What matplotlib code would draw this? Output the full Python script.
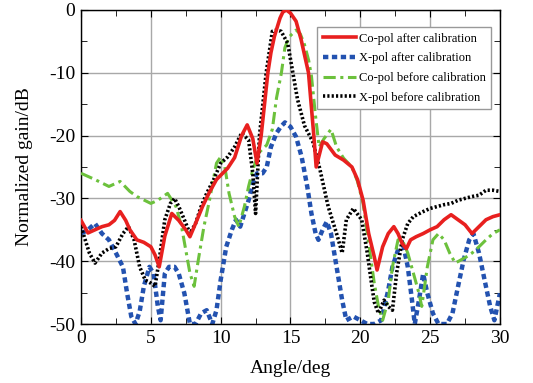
import matplotlib
matplotlib.use("Agg")
import matplotlib.pyplot as plt
from matplotlib.ticker import MultipleLocator

plt.rcParams['font.family'] = ['Liberation Serif', 'DejaVu Serif']
plt.rcParams['axes.unicode_minus'] = False

# Co-pol after calibration (red)
red_x = [0, 0.5, 1.0, 1.5, 2.0, 2.4, 2.8, 3.2, 3.5, 4.0, 4.5, 5.0, 5.3, 5.6, 6.0, 6.5, 7.0, 7.5, 7.8,
         8.2, 8.7, 9.2, 9.7, 10.5, 11.0, 11.5, 11.9, 12.3, 12.6, 12.9, 13.38, 13.6, 13.85, 14.25,
         14.45, 14.7, 15.0, 15.4, 15.76, 16.29, 16.67, 16.84, 17.3, 17.6, 18.2, 18.8, 19.4, 19.8,
         20.2, 20.6, 21.0, 21.2, 21.6, 22.0, 22.4, 22.7, 23.0, 23.3, 23.6, 24.0, 24.5, 25.0,
         25.5, 26.0, 26.5, 27.0, 27.5, 28.0, 28.5, 29.0, 29.5, 30.0]
red_y = [-33.5, -35.5, -35, -34.5, -34.2, -33.5, -32.1, -33.5, -35, -36.6, -37, -37.7, -39, -40.9,
         -36, -32.4, -33.5, -35, -36.1, -34, -31.3, -29, -27, -25.2, -23.5, -20, -18.3, -20.5,
         -24.4, -20, -10, -6.8, -4.2, -1.3, -0.35, 0, -0.5, -1.8, -4.7, -10, -20, -25, -21, -21.3,
         -23.1, -23.9, -25, -27, -30.3, -35.6, -39.3, -41.4, -37.7, -35.6, -34.5, -35.6, -37.2,
         -38, -36.6, -36.1, -35.6, -35, -34.5, -33.4, -32.6, -33.4, -34.2, -35.6, -34.5, -33.4,
         -32.9, -32.6]

# X-pol after calibration (blue)
blue_x = [0, 0.5, 1.0, 1.5, 2.0, 2.5, 3.0, 3.3, 3.6, 3.9, 4.2, 4.5, 4.9, 5.2, 5.5, 5.7, 6.0, 6.3,
          6.7, 7.0, 7.4, 7.8, 8.2, 8.6, 9.0, 9.4, 9.7, 10.0, 10.4, 10.8, 11.1, 11.4, 11.7, 12.0,
          12.3, 12.6, 13.0, 13.3, 13.6, 14.0, 14.3, 14.6, 15.0, 15.4, 15.8, 16.2, 16.5, 16.8,
          17.0, 17.3, 17.6, 17.9, 18.3, 18.7, 19.0, 19.5, 20.0, 20.5, 21.0, 21.5, 22.0, 22.3,
          22.7, 23.1, 23.4, 23.7, 23.9, 24.2, 24.5, 24.8, 25.2, 25.6, 26.2, 26.6, 27.0, 27.4,
          27.8, 28.1, 28.5, 28.9, 29.3, 29.6, 30.0]
blue_y = [-35.6, -35, -34, -35.6, -36.6, -38.7, -40.9, -45.1, -48.8, -50, -48, -44, -40.9, -42,
          -47.2, -49.4, -42, -40.9, -40.9, -42, -45.1, -50, -50, -48.3, -47.8, -50, -47.8, -43,
          -37.7, -35, -33.4, -34.5, -32.4, -30.3, -27.6, -26, -26, -25, -21.8, -19.6, -18.6, -17.9,
          -18.6, -20.2, -23.4, -28.1, -32.4, -35.6, -36.6, -35, -33.7, -35.6, -40.9, -46.2,
          -49.4, -48.8, -49.4, -50, -50, -49.4, -44.6, -40.9, -38.2, -37.7, -40.9, -46.2, -50,
          -46.2, -42, -45.1, -48.3, -50, -50, -48.3, -44, -39.8, -36.6, -35.6, -38.7, -43,
          -47.2, -49.4, -45.1]

# Co-pol before calibration (green)
green_x = [0, 1.0, 2.0, 2.8, 3.5, 4.0, 5.0, 5.5, 6.2, 6.8, 7.2, 7.8, 8.1, 8.4, 8.8, 9.2, 9.7,
           10.0, 10.3, 10.6, 11.0, 11.3, 11.7, 12.0, 12.3, 12.7, 13.3, 13.7, 14.0, 14.35, 14.6,
           14.9, 15.4, 15.7, 16.0, 16.3, 16.5, 16.8, 17.05, 17.4, 17.9, 18.3, 18.8, 19.4, 19.8,
           20.2, 20.6, 21.0, 21.3, 21.6, 22.0, 22.3, 22.7, 23.0, 23.4, 23.8, 24.2, 24.4, 24.8,
           25.2, 25.6, 26.0, 26.4, 26.8, 27.2, 27.6, 28.0, 28.5, 29.0, 29.5, 30.0]
green_y = [-26, -27, -28.1, -27.3, -28.9, -29.7, -30.8, -30.3, -29.2, -31.3, -34.5, -41.9, -44,
           -39.8, -34.5, -30.3, -24.4, -23.4, -25, -29.2, -32.9, -34.5, -31.3, -28.1, -25.5,
           -22.8, -21.5, -19, -14, -10, -6, -4.3, -3.2, -3.8, -5.5, -8, -10.5, -17, -21.8,
           -20.5, -19, -21.8, -23.6, -25, -27.3, -30.8, -37.2, -43.5, -47.2, -49.4, -46.2, -40.9,
           -36.6, -36.6, -38.7, -41.9, -45.1, -47.2, -40.9, -36.6, -35.6, -36.6, -38.7, -40.3,
           -39.8, -39.3, -38.7, -37.7, -36.6, -35.6, -35]

# X-pol before calibration (black)
black_x = [0, 0.3, 0.6, 1.0, 1.5, 2.0, 2.5, 3.0, 3.4, 3.8, 4.2, 4.6, 5.0, 5.3, 5.6, 6.0, 6.4,
           6.7, 7.0, 7.4, 7.8, 8.2, 8.6, 9.0, 9.5, 10.0, 10.5, 11.0, 11.5, 12.0, 12.3, 12.5,
           12.78, 13.26, 13.7, 14.0, 14.33, 14.8, 15.17, 15.5, 16.0, 16.6, 17.1, 17.7, 18.3, 18.7,
           19.0, 19.5, 20.1, 20.5, 20.8, 21.0, 21.3, 21.7, 22.0, 22.3, 22.6, 23.0, 23.4, 23.8,
           24.5, 25.0, 25.5, 26.0, 26.5, 27.0, 27.5, 28.0, 28.5, 29.0, 29.5, 30.0]
black_y = [-34.5, -36.6, -38.7, -40.3, -38.7, -38, -37.7, -35.6, -34.5, -36.6, -40.9, -43,
           -43.5, -44, -39.8, -33.4, -30.8, -30, -31.3, -33.4, -35.6, -34, -31.3, -29.2, -27,
           -24.4, -23.4, -21.8, -19.6, -20.7, -26, -32.4, -20, -10, -3.4, -3.2, -3.4, -5.3,
           -10, -14.2, -18.4, -21, -25.3, -31.3, -35.6, -38.7, -33.4, -31.6, -33.4, -38.7, -43.5,
           -46.5, -48.3, -46.2, -47.2, -47.8, -41.9, -36.6, -34, -32.9, -32.1, -31.6, -31.3,
           -31, -30.8, -30.3, -30, -29.7, -29.5, -28.7, -28.7, -28.9]

labels = ["Co-pol after calibration", "X-pol after calibration",
          "Co-pol before calibration", "X-pol before calibration"]

fig = plt.figure(figsize=(5.33, 3.83), dpi=100)
ax = fig.add_axes([0.152, 0.154, 0.786, 0.820])

ax.plot(red_x, red_y, color='#e8201f', lw=2.6, ls='-', label=labels[0], zorder=4)
ax.plot(blue_x, blue_y, color='#2352b0', lw=3.2, ls=(0, (1.2, 0.8)), label=labels[1], zorder=2)
ax.plot(green_x, green_y, color='#6cc13c', lw=2.2, ls=(0, (4, 1.5, 1, 1.5)), label=labels[2], zorder=3)
ax.plot(black_x, black_y, color='black', lw=2.6, ls=(0, (0.6, 0.6)), label=labels[3], zorder=3)

ax.set_xlim(0, 30)
ax.set_ylim(-50, 0)
ax.xaxis.set_major_locator(MultipleLocator(5))
ax.xaxis.set_minor_locator(MultipleLocator(2.5))
ax.yaxis.set_major_locator(MultipleLocator(10))
ax.yaxis.set_minor_locator(MultipleLocator(5))
ax.tick_params(which='both', direction='in', top=True, right=True, labelsize=14, pad=4)
ax.tick_params(which='major', length=5)
ax.tick_params(which='minor', length=4)
ax.grid(True, which='major', color='#a8a8a8', lw=1.0)
for s in ax.spines.values():
    s.set_linewidth(1.0)

ax.set_xlabel("Angle/deg", fontsize=14, labelpad=9.5)
ax.set_ylabel("Normalized gain/dB", fontsize=14, labelpad=12)

leg = ax.legend(loc='upper right', bbox_to_anchor=(0.979, 0.946), borderaxespad=0,
                fontsize=9.0, fancybox=False, edgecolor='#999999', framealpha=1,
                handlelength=2.64, handletextpad=0.25, labelspacing=0.62, borderpad=0.45)
leg.get_frame().set_linewidth(1.0)
leg.set_zorder(10)

fig.savefig("out.png", dpi=100)
